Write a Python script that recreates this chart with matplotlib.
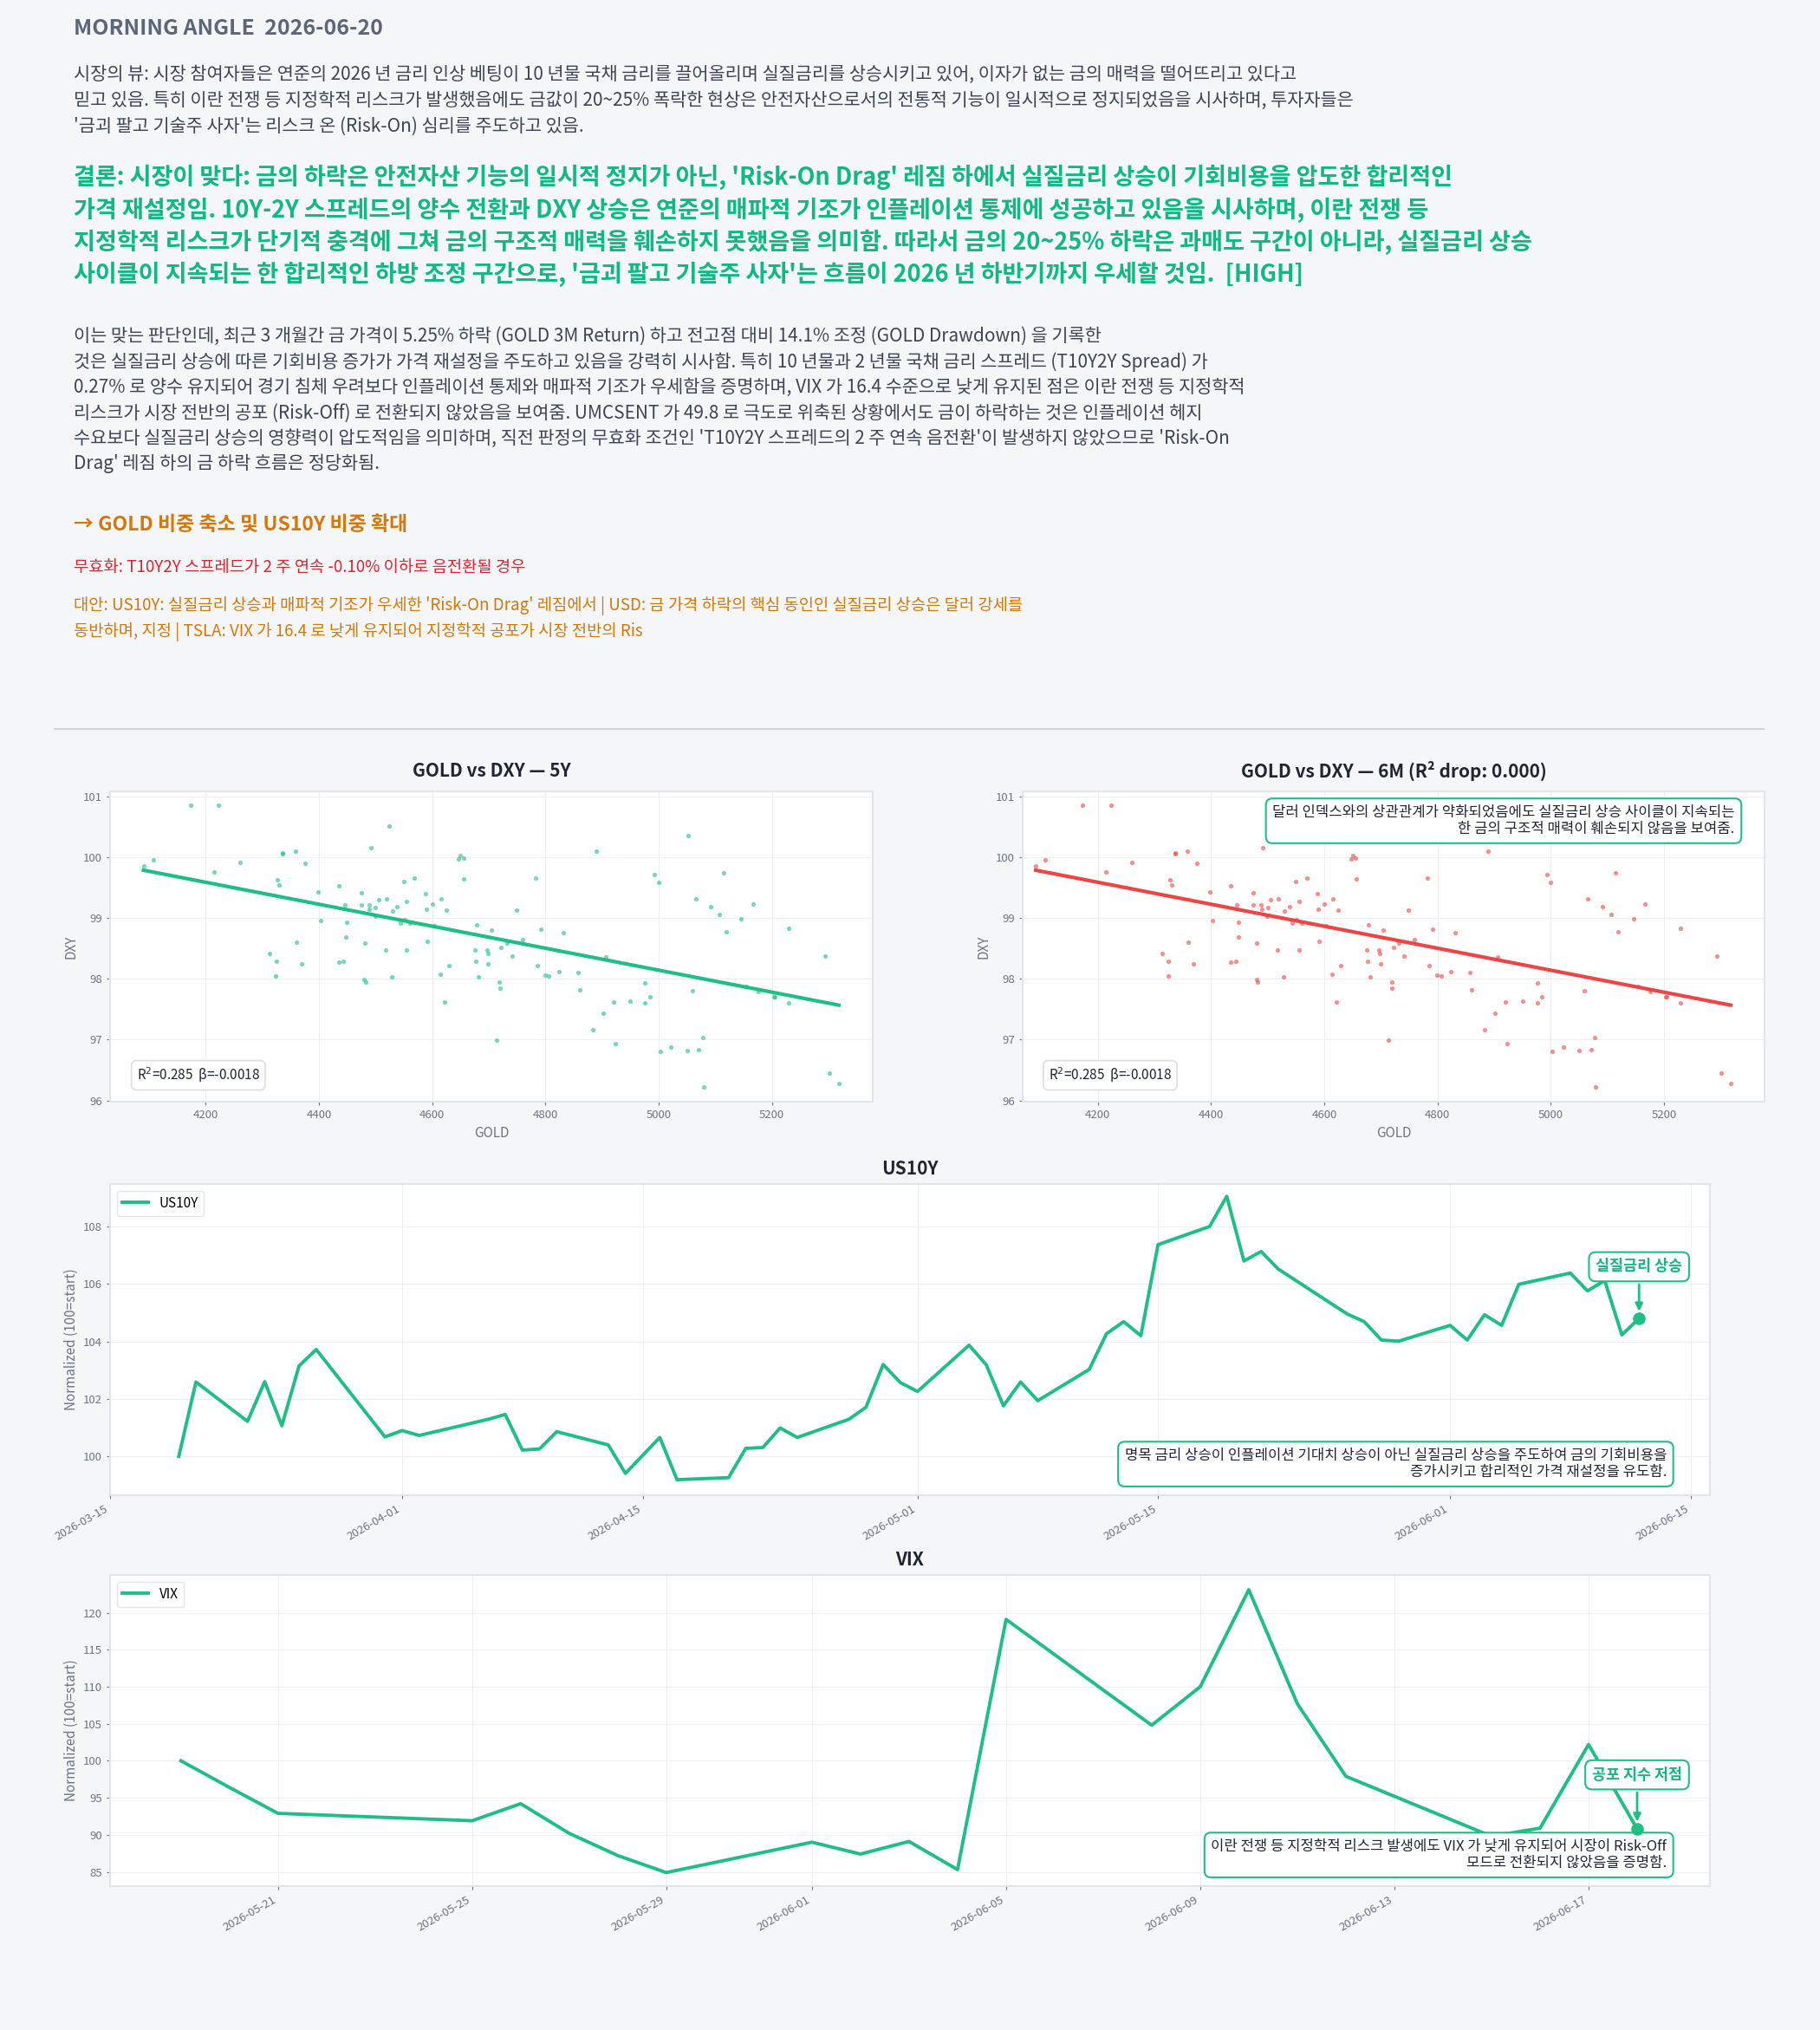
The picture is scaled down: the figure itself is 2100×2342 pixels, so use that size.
import numpy as np
import pandas as pd
import matplotlib
matplotlib.use('Agg')
import matplotlib.pyplot as plt
import matplotlib.dates as mdates

plt.rcParams['font.family'] = ['Noto Sans CJK KR', 'DejaVu Sans']

gold = [4090, 4107, 4173, 4223, 4214, 4260, 4327, 4330, 4336, 4336, 4358, 4375, 4313, 4325, 4324,
        4360, 4369, 4398, 4403, 4435, 4446, 4449, 4448, 4435, 4443, 4475, 4475, 4488, 4489, 4491,
        4500, 4499, 4481, 4480, 4482, 4505, 4519, 4524, 4530, 4538, 4544, 4550, 4551, 4555, 4560,
        4569, 4555, 4518, 4528, 4588, 4589, 4591, 4600, 4603, 4615, 4625, 4614, 4622, 4629, 4650,
        4647, 4655, 4656, 4678, 4675, 4677, 4681, 4697, 4698, 4699, 4704, 4719, 4720, 4714, 4722,
        4732, 4741, 4749, 4760, 4782, 4785, 4791, 4799, 4806, 4824, 4831, 4857, 4861, 4889, 4907,
        4883, 4902, 4920, 4923, 4950, 4976, 4976, 4985, 4993, 5000, 5003, 5022, 5050, 5052, 5059,
        5065, 5071, 5078, 5079, 5091, 5107, 5115, 5119, 5146, 5155, 5167, 5176, 5204, 5205, 5230,
        5230, 5294, 5301, 5318]
dxy = [99.86, 99.95, 100.85, 100.85, 99.75, 99.91, 99.63, 99.54, 100.07, 100.05, 100.09, 99.90, 98.42, 98.29, 98.04,
       98.60, 98.24, 99.43, 98.96, 99.53, 99.22, 98.93, 98.68, 98.28, 98.29, 99.41, 99.21, 99.22, 99.14, 100.15,
       99.17, 99.03, 98.58, 97.99, 97.94, 99.30, 99.32, 100.51, 99.11, 99.19, 98.92, 99.60, 98.97, 99.27, 98.91,
       99.65, 98.48, 98.47, 98.03, 99.40, 99.14, 98.62, 99.23, 98.87, 99.32, 99.13, 98.08, 97.62, 98.21, 100.03,
       99.97, 99.98, 99.64, 98.89, 98.48, 98.29, 98.03, 98.48, 98.41, 98.25, 98.80, 97.94, 97.84, 96.99, 98.51,
       98.59, 98.37, 99.13, 98.64, 99.65, 98.22, 98.82, 98.06, 98.05, 98.12, 98.76, 98.10, 97.82, 100.09, 98.36,
       97.16, 97.44, 97.62, 96.94, 97.63, 97.93, 97.60, 97.70, 99.71, 99.58, 96.80, 96.88, 96.82, 100.36, 97.80,
       99.32, 96.83, 97.04, 96.22, 99.18, 99.05, 99.74, 98.77, 98.99, 97.88, 99.23, 97.79, 97.70, 97.71, 98.83,
       97.61, 98.38, 96.45, 96.28]

us10y_dates = ['2026-03-19', '2026-03-20', '2026-03-23', '2026-03-24', '2026-03-25', '2026-03-26', '2026-03-27',
               '2026-03-31', '2026-04-01', '2026-04-02', '2026-04-06', '2026-04-07', '2026-04-08', '2026-04-09',
               '2026-04-10', '2026-04-13', '2026-04-14', '2026-04-16', '2026-04-17', '2026-04-20', '2026-04-21',
               '2026-04-22', '2026-04-23', '2026-04-24', '2026-04-27', '2026-04-28', '2026-04-29', '2026-04-30',
               '2026-05-01', '2026-05-04', '2026-05-05', '2026-05-06', '2026-05-07', '2026-05-08', '2026-05-11',
               '2026-05-12', '2026-05-13', '2026-05-14', '2026-05-15', '2026-05-18', '2026-05-19', '2026-05-20',
               '2026-05-21', '2026-05-22', '2026-05-26', '2026-05-27', '2026-05-28', '2026-05-29', '2026-06-01',
               '2026-06-02', '2026-06-03', '2026-06-04', '2026-06-05', '2026-06-08', '2026-06-09', '2026-06-10',
               '2026-06-11', '2026-06-12']
us10y = [100.0, 102.59, 101.22, 102.6, 101.07, 103.15, 103.72, 100.68, 100.9, 100.73, 101.29, 101.46, 100.22,
         100.26, 100.86, 100.4, 99.41, 100.66, 99.19, 99.26, 100.28, 100.31, 100.99, 100.66, 101.29, 101.71,
         103.2, 102.57, 102.26, 103.87, 103.19, 101.76, 102.59, 101.94, 103.03, 104.27, 104.69, 104.2, 107.37,
         108.0, 109.05, 106.8, 107.13, 106.52, 104.96, 104.69, 104.05, 104.01, 104.56, 104.05, 104.93, 104.56,
         105.99, 106.38, 105.76, 106.12, 104.23, 104.8]

vix_dates = ['2026-05-19', '2026-05-20', '2026-05-21', '2026-05-25', '2026-05-26', '2026-05-27', '2026-05-28',
             '2026-05-29', '2026-06-01', '2026-06-02', '2026-06-03', '2026-06-04', '2026-06-05', '2026-06-08',
             '2026-06-09', '2026-06-10', '2026-06-11', '2026-06-12', '2026-06-15', '2026-06-16', '2026-06-17',
             '2026-06-18']
vix = [100.0, 96.4, 92.9, 91.9, 94.2, 90.2, 87.2, 84.9, 89.0, 87.4, 89.1, 85.3, 119.1, 104.8, 110.0, 123.1,
       107.7, 97.9, 89.8, 90.9, 102.2, 90.8]

GREEN = '#1dbf85'
RED = '#ef4444'
BG = '#f5f6f8'
TXT = '#3d4555'
TICK = '#6b7385'
LX = 85 / 2100

fig = plt.figure(figsize=(21, 23.42), dpi=100)
fig.patch.set_facecolor(BG)

# ---- text block
fig.text(LX, 1 - 33 / 2342, 'MORNING ANGLE  2026-06-20', fontsize=18, fontweight='bold',
         color='#5d6678', va='center')
fig.text(LX, 1 - 75 / 2342,
         "시장의 뷰: 시장 참여자들은 연준의 2026 년 금리 인상 베팅이 10 년물 국채 금리를 끌어올리며 실질금리를 상승시키고 있어, 이자가 없는 금의 매력을 떨어뜨리고 있다고\n"
         "믿고 있음. 특히 이란 전쟁 등 지정학적 리스크가 발생했음에도 금값이 20~25% 폭락한 현상은 안전자산으로서의 전통적 기능이 일시적으로 정지되었음을 시사하며, 투자자들은\n"
         "'금괴 팔고 기술주 사자'는 리스크 온 (Risk-On) 심리를 주도하고 있음.",
         fontsize=15, color=TXT, va='top', linespacing=1.45)
fig.text(LX, 1 - 190 / 2342,
         "결론: 시장이 맞다: 금의 하락은 안전자산 기능의 일시적 정지가 아닌, 'Risk-On Drag' 레짐 하에서 실질금리 상승이 기회비용을 압도한 합리적인\n"
         "가격 재설정임. 10Y-2Y 스프레드의 양수 전환과 DXY 상승은 연준의 매파적 기조가 인플레이션 통제에 성공하고 있음을 시사하며, 이란 전쟁 등\n"
         "지정학적 리스크가 단기적 충격에 그쳐 금의 구조적 매력을 훼손하지 못했음을 의미함. 따라서 금의 20~25% 하락은 과매도 구간이 아니라, 실질금리 상승\n"
         "사이클이 지속되는 한 합리적인 하방 조정 구간으로, '금괴 팔고 기술주 사자'는 흐름이 2026 년 하반기까지 우세할 것임.  [HIGH]",
         fontsize=19.5, fontweight='bold', color='#10b981', va='top', linespacing=1.35)
fig.text(LX, 1 - 377 / 2342,
         "이는 맞는 판단인데, 최근 3 개월간 금 가격이 5.25% 하락 (GOLD 3M Return) 하고 전고점 대비 14.1% 조정 (GOLD Drawdown) 을 기록한\n"
         "것은 실질금리 상승에 따른 기회비용 증가가 가격 재설정을 주도하고 있음을 강력히 시사함. 특히 10 년물과 2 년물 국채 금리 스프레드 (T10Y2Y Spread) 가\n"
         "0.27% 로 양수 유지되어 경기 침체 우려보다 인플레이션 통제와 매파적 기조가 우세함을 증명하며, VIX 가 16.4 수준으로 낮게 유지된 점은 이란 전쟁 등 지정학적\n"
         "리스크가 시장 전반의 공포 (Risk-Off) 로 전환되지 않았음을 보여줌. UMCSENT 가 49.8 로 극도로 위축된 상황에서도 금이 하락하는 것은 인플레이션 헤지\n"
         "수요보다 실질금리 상승의 영향력이 압도적임을 의미하며, 직전 판정의 무효화 조건인 'T10Y2Y 스프레드의 2 주 연속 음전환'이 발생하지 않았으므로 'Risk-On\n"
         "Drag' 레짐 하의 금 하락 흐름은 정당화됨.",
         fontsize=15, color=TXT, va='top', linespacing=1.42)
fig.text(LX, 1 - 605 / 2342, '→ GOLD 비중 축소 및 US10Y 비중 확대', fontsize=16.5, fontweight='bold',
         color='#d97706', va='center')
fig.text(LX, 1 - 655 / 2342, '무효화: T10Y2Y 스프레드가 2 주 연속 -0.10% 이하로 음전환될 경우', fontsize=13.5,
         color='#e0242f', va='center')
fig.text(LX, 1 - 688 / 2342,
         "대안: US10Y: 실질금리 상승과 매파적 기조가 우세한 'Risk-On Drag' 레짐에서 | USD: 금 가격 하락의 핵심 동인인 실질금리 상승은 달러 강세를\n"
         "동반하며, 지정 | TSLA: VIX 가 16.4 로 낮게 유지되어 지정학적 공포가 시장 전반의 Ris",
         fontsize=13.5, color='#d97706', va='top', linespacing=1.48)
fig.add_artist(plt.Line2D([0.03, 0.969], [1 - 841 / 2342] * 2, color='#cfd3da', lw=1.5))


def style(ax):
    ax.set_facecolor('white')
    for s in ax.spines.values():
        s.set_color('#e2e4ea')
        s.set_linewidth(1.5)
    ax.grid(True, color='#eeeff2', lw=0.8)
    ax.set_axisbelow(True)
    ax.tick_params(colors=TICK, labelsize=9.5, length=3)


box = dict(boxstyle='round,pad=0.4', fc='white', ec='#dcdfe5', lw=1.2)
gbox = dict(boxstyle='round,pad=0.45', fc='white', ec=GREEN, lw=1.5)

slope, icpt = np.polyfit(gold, dxy, 1)
xs = np.array([min(gold), max(gold)])
for i, (col, ttl) in enumerate([(GREEN, 'GOLD vs DXY — 5Y'), (RED, 'GOLD vs DXY — 6M (R² drop: 0.000)')]):
    left = [127, 1180][i] / 2100
    width = [880, 856][i] / 2100
    ax = fig.add_axes([left, 1 - 1271 / 2342, width, 358 / 2342])
    style(ax)
    ax.scatter(gold, dxy, s=14, color=col, alpha=0.6, lw=0)
    ax.plot(xs, slope * xs + icpt, color=col, lw=3)
    ax.set_ylim(95.98, 101.08)
    ax.set_xlim([4031, 4067][i], 5378)
    ax.set_xticks([4200, 4400, 4600, 4800, 5000, 5200])
    ax.set_yticks([96, 97, 98, 99, 100, 101])
    ax.set_xlabel('GOLD', color=TICK, fontsize=11)
    ax.set_ylabel('DXY', color=TICK, fontsize=11)
    ax.set_title(ttl, fontsize=15, fontweight='bold', color='#1f2533', pad=12)
    ax.text(0.035, 0.085, 'R$^2$=0.285  β=-0.0018', transform=ax.transAxes, fontsize=11,
            color='#1f2533', va='center', bbox=box)
    if i == 1:
        ax.text(0.96, 0.905, '달러 인덱스와의 상관관계가 약화되었음에도 실질금리 상승 사이클이 지속되는\n'
                '한 금의 구조적 매력이 훼손되지 않음을 보여줌.', transform=ax.transAxes, fontsize=12,
                ha='right', va='center', color='#1f2533', bbox=gbox, multialignment='right')


def line_panel(bottom, dates, vals, name, ticks, fmt, lbl, note, ylim, xlim, lbly):
    ax = fig.add_axes([127 / 2100, bottom, 1846 / 2100, 0.1533])
    style(ax)
    d = pd.to_datetime(dates)
    ax.plot(d, vals, color=GREEN, lw=2.8, label=name)
    ax.scatter([d[-1]], [vals[-1]], s=90, color=GREEN, zorder=5)
    ax.set_ylim(*ylim)
    ax.set_xlim(pd.Timestamp(xlim[0]), pd.Timestamp(xlim[1]))
    ax.set_title(name, fontsize=15, fontweight='bold', color='#1f2533', pad=8)
    ax.set_ylabel('Normalized (100=start)', color=TICK, fontsize=11)
    ax.set_xticks(pd.to_datetime(ticks))
    ax.xaxis.set_major_formatter(mdates.DateFormatter(fmt))
    plt.setp(ax.get_xticklabels(), rotation=30, ha='right')
    leg = ax.legend(loc='upper left', fontsize=11, frameon=True, handlelength=2)
    leg.get_frame().set_edgecolor('#dcdfe5')
    ax.annotate(lbl, xy=(d[-1], vals[-1]), xytext=(mdates.date2num(d[-1]), lbly),
                textcoords='data', ha='center', va='center', fontsize=12.5, fontweight='bold',
                color='#10b981', bbox=gbox,
                arrowprops=dict(arrowstyle='-|>', color=GREEN, lw=2, shrinkB=6))
    ax.text(0.973, 0.1, note, transform=ax.transAxes, fontsize=12, ha='right', va='center',
            color='#1f2533', bbox=gbox, multialignment='right')
    return ax


ax1 = line_panel(1 - 1725 / 2342, us10y_dates, us10y, 'US10Y',
                 ['2026-03-15', '2026-04-01', '2026-04-15', '2026-05-01', '2026-05-15', '2026-06-01', '2026-06-15'],
                 '%Y-%m-%d', '실질금리 상승',
                 '명목 금리 상승이 인플레이션 기대치 상승이 아닌 실질금리 상승을 주도하여 금의 기회비용을\n증가시키고 합리적인 가격 재설정을 유도함.',
                 (98.65, 109.48), ('2026-03-15', '2026-06-16 03:00'), 106.6)
ax1.set_yticks([100, 102, 104, 106, 108])

ax2 = line_panel(1 - 2176 / 2342, vix_dates, vix, 'VIX',
                 ['2026-05-21', '2026-05-25', '2026-05-29', '2026-06-01', '2026-06-05', '2026-06-09',
                  '2026-06-13', '2026-06-17'],
                 '%Y-%m-%d', '공포 지수 저점',
                 '이란 전쟁 등 지정학적 리스크 발생에도 VIX 가 낮게 유지되어 시장이 Risk-Off\n모드로 전환되지 않았음을 증명함.',
                 (83.07, 125.1), ('2026-05-17 13:00', '2026-06-19 12:00'), 98.1)
ax2.set_yticks([85, 90, 95, 100, 105, 110, 115, 120])

fig.savefig('out.png', dpi=100, facecolor=BG)
